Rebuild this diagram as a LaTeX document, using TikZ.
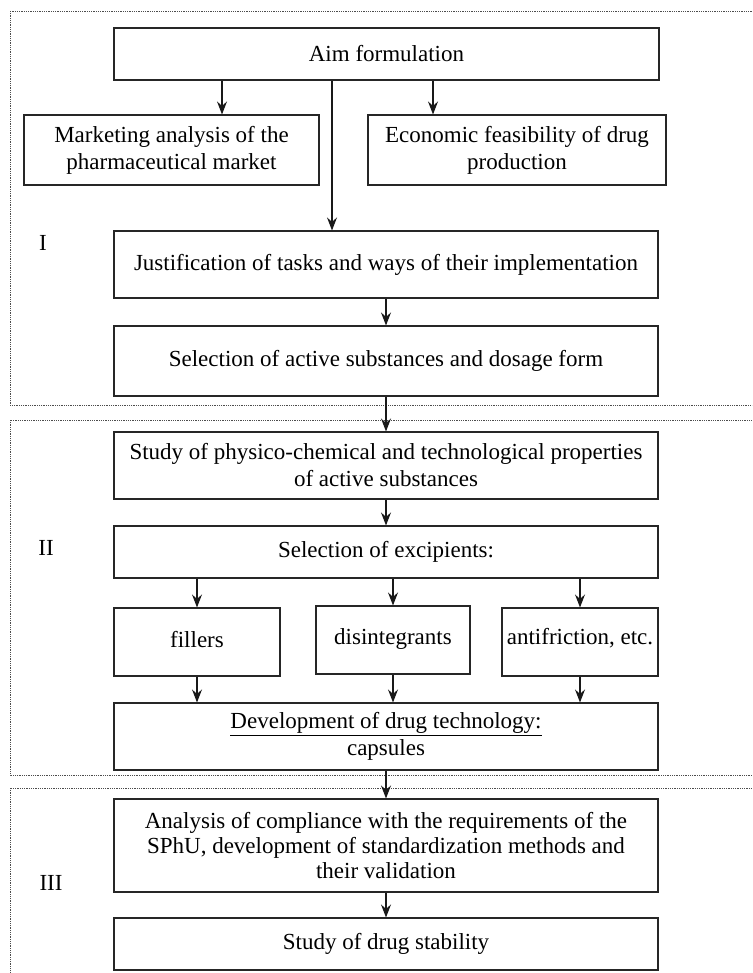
\documentclass[tikz,border=0pt]{standalone}
\usepackage{fontspec}
\setmainfont{Liberation Serif}
\usetikzlibrary{arrows.meta}
\tikzset{
  box/.style={draw=black!85, line width=1.1pt, rectangle, inner sep=0pt, align=center,
              font=\fontsize{23}{27}\selectfont},
  panel/.style={draw=black!70, line width=0.8pt, dash pattern=on 0.9pt off 0.9pt},
  flow/.style={draw=black!90, line width=1.1pt, -{Stealth[length=13pt,width=10pt,inset=4.5pt]}},
  stagelabel/.style={font=\fontsize{23}{27}\selectfont, inner sep=0pt}
}
\begin{document}
\begin{tikzpicture}[x=1pt,y=-1pt]
\useasboundingbox (0,0) rectangle (752,973);
\clip (0,0) rectangle (752,973);
\fill[white] (0,0) rectangle (752,973);

% panels
\draw[panel] (10,11) rectangle (780,405);
\draw[panel] (10,420) rectangle (780,775);
\draw[panel] (10,788) rectangle (780,1000);

% stage labels
\node[stagelabel] (l1) at (43,243) {I};
\node[stagelabel] (l2) at (46,548) {II};
\node[stagelabel] (l3) at (51,883) {III};

% boxes
\node[box, minimum width=545pt, minimum height=52pt] (aim) at (386.5,54) {Aim formulation};
\node[box, minimum width=295pt, minimum height=70pt] (mkt) at (171.5,150) {Marketing analysis of the\\pharmaceutical market};
\node[box, minimum width=298pt, minimum height=70pt] (eco) at (517,150) {\raisebox{-3pt}{Economic feasibility of drug}\\\raisebox{-3pt}{production}};
\node[box, minimum width=544pt, minimum height=67pt] (just) at (386,264.5) {Justification of tasks and ways of their implementation};
\node[box, minimum width=544pt, minimum height=70pt] (sel) at (386,361) {Selection of active substances and dosage form};
\node[box, minimum width=544pt, minimum height=67pt] (phys) at (386,465.5) {Study of physico-chemical and technological properties\\of active substances};
\node[box, minimum width=544pt, minimum height=52pt] (exc) at (386,552) {Selection of excipients:};
\node[box, minimum width=166pt, minimum height=68pt] (fill) at (197,642) {\raisebox{6pt}{fillers}};
\node[box, minimum width=154pt, minimum height=68pt] (dis) at (393,640) {\raisebox{6pt}{disintegrants}};
\node[box, minimum width=156pt, minimum height=68pt] (anti) at (580,642) {\raisebox{12pt}{antifriction, etc.}};
\node[box, minimum width=544pt, minimum height=67pt] (dev) at (386,736.5) {\underline{Development of drug technology:}\\capsules};
\node[box, minimum width=544pt, minimum height=93pt, font=\fontsize{23}{25}\selectfont] (ana) at (386,845.5) {Analysis of compliance with the requirements of the\\SPhU, development of standardization methods and\\their validation};
\node[box, minimum width=544pt, minimum height=52pt] (stab) at (386,944) {Study of drug stability};

% helper x positions
\coordinate (xm) at (222,0);
\coordinate (xe) at (433,0);
\coordinate (xj) at (332,0);

% connectors
\draw[flow] (aim.south -| xm) -- (mkt.north -| xm);
\draw[flow] (aim.south -| xe) -- (eco.north -| xe);
\draw[flow] (aim.south -| xj) -- (just.north -| xj);
\draw[flow] (just.south) -- (sel.north);
\draw[flow] (sel.south) -- (phys.north);
\draw[flow] (phys.south) -- (exc.north);
\draw[flow] (exc.south -| fill.north) -- (fill.north);
\draw[flow] (exc.south -| dis.north) -- (dis.north);
\draw[flow] (exc.south -| anti.north) -- (anti.north);
\draw[flow] (fill.south) -- (dev.north -| fill.south);
\draw[flow] (dis.south) -- (dev.north -| dis.south);
\draw[flow] (anti.south) -- (dev.north -| anti.south);
\draw[flow] (dev.south) -- (ana.north);
\draw[flow] (ana.south) -- (stab.north);
\end{tikzpicture}
\end{document}
